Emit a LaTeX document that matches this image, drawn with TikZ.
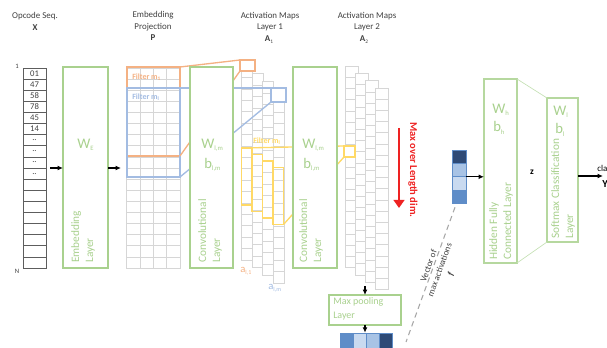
\documentclass[tikz,border=0pt]{standalone}
\usepackage{fontspec}
\setmainfont{Carlito}
\usetikzlibrary{arrows.meta}
\usetikzlibrary{fit}

\definecolor{lgreen}{HTML}{A9D18E}
\definecolor{pgreen}{HTML}{C5E0B4}
\definecolor{lorange}{HTML}{F4B183}
\definecolor{lblue}{HTML}{A3BCE2}
\definecolor{lyellow}{HTML}{FFD966}
\definecolor{cellgray}{HTML}{D6D6D6}
\definecolor{txtgray}{HTML}{404040}
\definecolor{vdark}{HTML}{2E4A76}
\definecolor{vmid}{HTML}{5F8DC8}
\definecolor{vlight}{HTML}{A8C3E5}
\definecolor{vpale}{HTML}{C9DAF0}
\definecolor{maxred}{HTML}{EE2222}

% small lowered index text
\newcommand{\subtxt}[2][5]{\raisebox{-0.35ex}{\fontsize{#1}{#1}\selectfont#2}}

\begin{document}
\begin{tikzpicture}[x=0.75pt,y=-0.75pt]
	\tikzset{title/.style={text=txtgray, align=center, inner sep=0pt, font=\fontsize{6.7}{8.3}\selectfont}}
	\tikzset{opcell/.style={draw=txtgray!85, line width=0.5pt, inner sep=0pt, minimum width=17.25pt, minimum height=8.33pt}}
	\tikzset{optext/.style={text=txtgray, inner sep=0pt, font=\fontsize{6.5}{7}\selectfont}}
	\tikzset{layerbox/.style={draw=lgreen, line width=1.4pt, fill=white, inner sep=0pt, outer sep=0pt}}
	\tikzset{layertext/.style={rotate=90, anchor=north west, align=left, inner sep=0pt, text=lgreen, font=\fontsize{8.5}{10.5}\selectfont}}
	\tikzset{wlabel/.style={anchor=west, inner sep=0pt, text=lgreen, font=\fontsize{11}{13}\selectfont}}
	\tikzset{gridcell/.style={draw=cellgray, line width=0.4pt}}
	\tikzset{mapcell/.style={draw=cellgray, fill=white, line width=0.4pt}}
	\tikzset{filtbox/.style={line width=1.7pt, inner sep=0pt, outer sep=0pt}}
	\tikzset{sqbox/.style={fill=white, line width=1.6pt, inner sep=0pt, outer sep=0pt}}
	\tikzset{projline/.style={line width=1pt}}
	\tikzset{yfilt/.style={draw=lyellow, line width=1.3pt, inner sep=0pt, outer sep=0pt}}
	\tikzset{filttext/.style={anchor=west, inner sep=0pt, font=\bfseries\fontsize{6}{7}\selectfont}}
	\tikzset{flow/.style={draw=black, line width=0.9pt, -{Latex[length=4pt,width=3.6pt]}}}
	\tikzset{vcell/.style={draw=vmid, line width=0.4pt, inner sep=0pt, minimum width=9.75pt, minimum height=11.25pt}}
	\tikzset{fcell/.style={draw=vmid, line width=0.4pt, inner sep=0pt, minimum width=10.5pt, minimum height=9.94pt}}
	\useasboundingbox (0,0) rectangle (607,348);
	\clip (0,0) rectangle (607,348);
	%titles
	\node[title] (tseq) at (35,15.7) {Opcode Seq.};
	\node[title] (tX) at (35,28) {\textbf{X}};
	\node[title] (tproj) at (153,21.2) {Embedding\\Projection};
	\node[title] (tP) at (153,38) {\textbf{P}};
	\node[title] (tact1) at (270,21.2) {Activation Maps\\Layer 1};
	\node[title] (tA1) at (269,39.5) {\textbf{A}\subtxt[4]{1}};
	\node[title] (tact2) at (367,21.2) {Activation Maps\\Layer 2};
	\node[title] (tA2) at (364,39.5) {\textbf{A}\subtxt[4]{2}};
	%opcode sequence
	\foreach \i in {1,...,18}
		\node[opcell] (op\i) at (34.5,62.45+11.11*\i) {};
	\foreach \v [count=\i] in {01,47,58,78,45,14}
		\node[optext] (opl\i) at (op\i) {\v};
	\foreach \i in {7,...,10}
		\node[optext] (opd\i) at (op\i) {..};
	\node[optext, font=\fontsize{5}{6}\selectfont] (nfirst) at (17,66) {1};
	\node[optext, font=\fontsize{5}{6}\selectfont] (nlast) at (17,271) {N};
	%embedding layer
	\node[layerbox, fit={(63,67) (108,268)}] (emb) {};
	\node[wlabel] (wE) at (77,145) {W\subtxt{E}};
	\node[layertext] (embtxt) at (71,263) {Embedding\\Layer};
	\coordinate (ain) at (50,168);
	\coordinate (pin) at (121,168);
	\draw[flow] (ain) -- (ain -| emb.west);
	\draw[flow] (emb.east |- pin) -- (pin);
	%projection grid
	\foreach \c in {0,...,3}
		\foreach \r in {0,...,17}
			\draw[gridcell] (126.7+13.3*\c,68+11.11*\r) rectangle ++(13.3,11.11);
	\node[filtbox, draw=lorange, fit={(127,67) (180,156)}] (fone) {};
	\node[filtbox, draw=lblue, fit={(127,88) (180,177)}] (fm) {};
	\node[filttext, text=lorange] (fonetxt) at (132,77) {Filter m\subtxt[4]{1}};
	\node[filttext, text=lblue] (fmtxt) at (132,97) {Filter m\subtxt[4]{l}};
	%activation maps layer 1
	\foreach \i in {0,...,3}
		\foreach \r in {0,...,16}
			\draw[mapcell] (241.5+10.5*\i,66+7.7*\i+11.4*\r) rectangle ++(11,11.4);
	\node[sqbox, draw=lorange, fit={(240,60) (255,71)}] (sqone) {};
	\node[sqbox, draw=lblue, fit={(271,88) (286,102)}] (sqm) {};
	\draw[projline, lorange] (fone.north east) -- (sqone.north west);
	\draw[projline, lorange] (fone.south east) -- (sqone.south west);
	\draw[projline, lblue] (fm.north east) -- (sqm.north west);
	\draw[projline, lblue] (fm.south east) -- (sqm.south west);
	\node[optext, anchor=west, text=lorange, font=\fontsize{8}{8}\selectfont] (aone) at (240,271) {a\subtxt[4.5]{l,1}};
	\node[optext, anchor=west, text=lblue, font=\fontsize{8}{8}\selectfont] (am) at (268,288) {a\subtxt[4.5]{l,m}};
	%convolutional layer 1
	\node[layerbox, fit={(190,67) (233,268)}] (conv1) {};
	\node[wlabel] (w1) at (201,145) {W\subtxt{l,m}};
	\node[wlabel] (b1) at (204,165) {b\subtxt{l,m}};
	\node[layertext] (conv1txt) at (198,263) {Convolutional\\Layer};
	%activation maps layer 2
	\foreach \i in {0,...,3}
		\foreach \r in {0,...,17}
			\draw[mapcell] (345+10*\i,66+7.3*\i+11.2*\r) rectangle ++(13,11.2);
	%filter on layer 1 maps
	\foreach \i in {0,...,3}
		\node[yfilt, fit={(241.5+10.5*\i,148+6.5*\i) (252+10.5*\i,205+6.5*\i)}] (yf\i) {};
	\node[filttext, text=lyellow] (fltxt) at (253,141) {Filter m\subtxt[4]{l}};
	\node[sqbox, draw=lyellow, line width=1.3pt, fit={(344,146) (355,157)}] (sqy) {};
	\draw[projline, lyellow] (yf0.north west) -- (sqy.north west);
	\draw[projline, lyellow] (yf3.south east) -- (sqy.south west);
	%convolutional layer 2
	\node[layerbox, fit={(293,67) (337,268)}] (conv2) {};
	\node[wlabel] (w2) at (302,145) {W\subtxt{l,m}};
	\node[wlabel] (b2) at (303,165) {b\subtxt{l,m}};
	\node[layertext] (conv2txt) at (299,263) {Convolutional\\Layer};
	%max over length
	\coordinate (rtop) at (399,128);
	\coordinate (rbot) at (399,208);
	\draw[draw=maxred, line width=2.2pt, -{Triangle[length=6pt,width=8pt]}] (rtop) -- (rbot);
	\node[rotate=-90, inner sep=0pt, text=maxred, font=\bfseries\fontsize{7.9}{9}\selectfont] (maxtxt) at (413,170) {Max over Length dim.};
	%max pooling
	\node[layerbox, fit={(329,295) (401,325)}] (mp) {};
	\node[anchor=north west, align=left, inner sep=0pt, text=lgreen, font=\fontsize{7.5}{10.5}\selectfont] (mptxt) at (333,297) {Max pooling\\Layer};
	\coordinate (mpin) at (365,286);
	\draw[flow] (mpin) -- (mpin |- mp.north);
	\foreach \c [count=\i] in {vmid,vpale,vlight,vdark}
		\node[vcell, fill=\c] (v\i) at (333.5+13*\i,340.5) {};
	\draw[flow] (mp.south) -- (mp.south |- v1.north);
	%vector of max activations
	\foreach \c [count=\i] in {vdark,vlight,vpale,vmid}
		\node[fcell, fill=\c] (f\i) at (459,143.4+13.25*\i) {};
	\coordinate (dbot) at (406,342);
	\draw[draw=gray!70, line width=0.8pt, dash pattern=on 4pt off 3pt] ([xshift=-3pt,yshift=-3pt]f4.south) -- (dbot);
	\node[rotate=70, align=center, inner sep=0pt, text=txtgray, font=\fontsize{6.7}{8.8}\selectfont] (ftxt) at (440,270) {Vector of\\max activations\\\textbf{\textit{f}}};
	%fully connected layers
	\node[layerbox, draw=lgreen!85, fit={(484,79) (517,263)}] (hid) {};
	\node[wlabel] (wh) at (492,110) {W\subtxt{h}};
	\node[wlabel] (bh) at (493,128) {b\subtxt{h}};
	\node[layertext] (hidtxt) at (489,260) {Hidden Fully\\Connected Layer};
	\node[layerbox, draw=lgreen!85, fit={(547,98) (578,242)}] (soft) {};
	\node[wlabel] (wl) at (553,112) {W\subtxt{l}};
	\node[wlabel] (bl) at (555,130) {b\subtxt{l}};
	\node[layertext] (softtxt) at (551,239) {Softmax Classification\\Layer};
	\draw[pgreen, line width=0.5pt] (hid.north east) -- (soft.north west);
	\draw[pgreen, line width=0.5pt] (hid.south east) -- (soft.south west);
	\draw[flow] (f2.south east) -- (f2.south east -| hid.west);
	\node[inner sep=0pt, font=\bfseries\fontsize{7}{8}\selectfont] (z) at (532,172) {z};
	%output
	\coordinate (outend) at (603,176);
	\draw[flow] (soft.east |- outend) -- (outend);
	\node[anchor=west, inner sep=0pt, font=\fontsize{6.7}{8}\selectfont] (cls) at (597,168) {class};
	\node[anchor=west, inner sep=0pt, font=\bfseries\fontsize{8}{9}\selectfont] (clsY) at (602,184) {Y};
\end{tikzpicture}
\end{document}
